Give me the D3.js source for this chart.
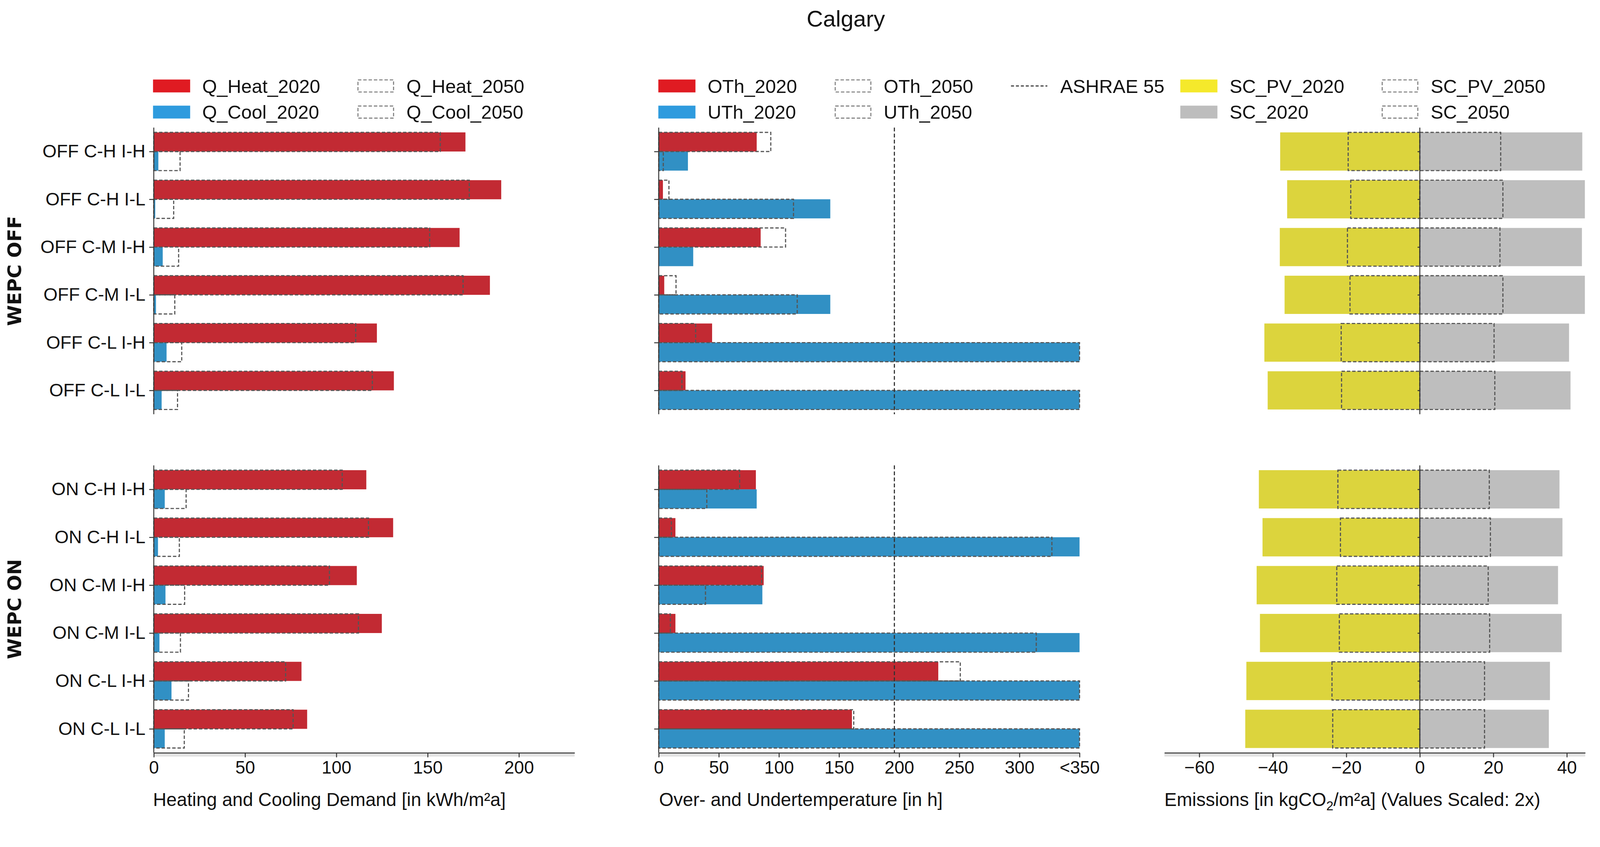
<!DOCTYPE html>
<html>
<head>
<meta charset="utf-8">
<script src="https://d3js.org/d3.v7.min.js"></script>
<style>
    html, body { margin: 0; padding: 0; background: #fff; overflow: hidden; }
    svg { display: block; }
    svg text { font-family: "Liberation Sans", Arial, sans-serif; fill: #111; }
    .axis path, .axis line { stroke: #333; stroke-width: 2.5; }
    .axis text { font-size: 46px; font-family: "Liberation Sans", Arial, sans-serif; fill: #111; }
</style>
</head>
<body>
<div id="chart"></div>
<script>
// categories (first 6 = WEPC OFF, last 6 = WEPC ON)
var rowLabels = ["OFF C-H I-H", "OFF C-H I-L", "OFF C-M I-H", "OFF C-M I-L", "OFF C-L I-H", "OFF C-L I-L",
                 "ON C-H I-H", "ON C-H I-L", "ON C-M I-H", "ON C-M I-L", "ON C-L I-H", "ON C-L I-L"];
var groupLabels = ["WEPC OFF", "WEPC ON"];

// heating / cooling demand [kWh/m²a]
var qHeat2020 = [170.7, 190.3, 167.5, 184.1, 122.2, 131.5, 116.4, 131.1, 111.2, 124.9, 80.9, 84.0];
var qHeat2050 = [156.9, 172.8, 151.1, 169.4, 110.6, 119.7, 103.2, 117.6, 96.2, 112.1, 72.2, 76.3];
var qCool2020 = [2.5, 0.8, 4.9, 1.2, 7.0, 4.3, 6.0, 2.3, 6.4, 3.1, 9.7, 6.0];
var qCool2050 = [14.4, 10.9, 13.6, 11.5, 15.3, 13.0, 17.7, 14.0, 16.9, 14.6, 19.0, 16.7];

// over- / undertemperature [h], capped at 350
var oTh2020 = [81.5, 3.5, 84.8, 4.6, 44.4, 22.3, 80.8, 13.9, 87.3, 13.9, 232.5, 160.7];
var oTh2050 = [93.2, 8.5, 105.5, 14.4, 30.7, 19.3, 67.3, 10.5, 85.6, 9.7, 250.8, 162.2];
var uTh2020 = [24.3, 142.7, 28.7, 142.7, 350, 350, 81.5, 350, 86.2, 350, 350, 350];
var uTh2050 = [3.8, 112.1, 0, 115.2, 350, 350, 40.0, 327, 38.9, 314, 350, 350];
var ashrae = 196;

// emissions [kgCO2/m²a] scaled 2x
var scPv2020 = [-38.0, -36.1, -38.1, -36.8, -42.3, -41.4, -43.8, -42.8, -44.4, -43.5, -47.2, -47.5];
var scPv2050 = [-19.5, -18.8, -19.7, -19.0, -21.4, -21.3, -22.3, -21.6, -22.6, -21.9, -23.9, -23.7];
var sc2020 = [44.2, 44.9, 44.1, 44.9, 40.6, 41.0, 38.0, 38.8, 37.6, 38.6, 35.4, 35.1];
var sc2050 = [22.0, 22.6, 21.8, 22.6, 20.2, 20.4, 18.9, 19.2, 18.6, 19.0, 17.6, 17.6];

var xTicks1 = [0, 50, 100, 150, 200];
var xTicks2 = [0, 50, 100, 150, 200, 250, 300, 350];
var xTicks3 = [-60, -40, -20, 0, 20, 40];

var W = 4224, H = 2169;
var svg = d3.select("#chart").append("svg")
    .attr("viewBox", "0 0 " + W + " " + H)
    .attr("preserveAspectRatio", "xMinYMin meet")
    .style("width", "100vw").style("height", "100vh");

var groups = [{ top: 337, bottom: 1094 }, { top: 1229, bottom: 1988 }];
var dashStyle = function (sel) {
    sel.attr("fill", "none").attr("stroke", "#555").attr("stroke-width", 3)
       .attr("stroke-dasharray", "9,5");
};

svg.append("text").attr("x", 2233).attr("y", 70).attr("text-anchor", "middle")
    .style("font-size", "60px").text("Calgary");

var panels = [
    { x0: 406, x1: 1517, domain: [0, 230.5], ticks: xTicks1,
      upper: [qHeat2020, qHeat2050], lower: [qCool2020, qCool2050],
      colors: ["#c22a33", "#3190c4"], labels: true,
      xlabel: "Heating and Cooling Demand [in kWh/m²a]" },
    { x0: 1739, x1: 2850, domain: [0, 350], ticks: xTicks2,
      upper: [oTh2020, oTh2050], lower: [uTh2020, uTh2050],
      colors: ["#c22a33", "#3190c4"], labels: false, ashrae: true,
      xlabel: "Over- and Undertemperature [in h]" },
    { x0: 3074, x1: 4185, domain: [-69.5, 45], ticks: xTicks3,
      left: [scPv2020, scPv2050], right: [sc2020, sc2050],
      colors: ["#dcd43d", "#bebebe"], labels: false, zeroLine: true }
];

panels.forEach(function (p, pi) {
    var x = d3.scaleLinear().domain(p.domain).range([p.x0, p.x1]);
    groups.forEach(function (g, gi) {
        var y = d3.scaleLinear().domain([-0.5, 5.5]).range([g.top, g.bottom]);
        var idx = d3.range(6).map(function (i) { return i + gi * 6; });
        var layer = svg.append("g");
        if (p.upper) {
            // 2020 filled bars
            layer.selectAll(".up").data(idx).enter().append("rect")
                .attr("x", x(0)).attr("y", function (d, i) { return y(i - 0.4); })
                .attr("width", function (d) { return x(p.upper[0][d]) - x(0); })
                .attr("height", y(0.4) - y(0)).attr("fill", p.colors[0]);
            layer.selectAll(".lo").data(idx).enter().append("rect")
                .attr("x", x(0)).attr("y", function (d, i) { return y(i); })
                .attr("width", function (d) { return x(p.lower[0][d]) - x(0); })
                .attr("height", y(0.4) - y(0)).attr("fill", p.colors[1]);
            // 2050 dashed outlines
            layer.selectAll(".up50").data(idx).enter().append("rect")
                .attr("x", x(0)).attr("y", function (d, i) { return y(i - 0.4); })
                .attr("width", function (d) { return x(p.upper[1][d]) - x(0); })
                .attr("height", y(0.4) - y(0)).call(dashStyle);
            layer.selectAll(".lo50").data(idx).enter().append("rect")
                .attr("x", x(0)).attr("y", function (d, i) { return y(i); })
                .attr("width", function (d) { return x(p.lower[1][d]) - x(0); })
                .attr("height", y(0.4) - y(0)).call(dashStyle);
        } else {
            [0, 1].forEach(function (k) {
                var ser = k === 0 ? p.left : p.right;
                layer.selectAll(".f" + k).data(idx).enter().append("rect")
                    .attr("x", function (d) { return x(Math.min(0, ser[0][d])); })
                    .attr("y", function (d, i) { return y(i - 0.4); })
                    .attr("width", function (d) { return Math.abs(x(ser[0][d]) - x(0)); })
                    .attr("height", y(0.4) - y(-0.4)).attr("fill", p.colors[k]);
            });
            [0, 1].forEach(function (k) {
                var ser = k === 0 ? p.left : p.right;
                layer.selectAll(".d" + k).data(idx).enter().append("rect")
                    .attr("x", function (d) { return x(Math.min(0, ser[1][d])); })
                    .attr("y", function (d, i) { return y(i - 0.4); })
                    .attr("width", function (d) { return Math.abs(x(ser[1][d]) - x(0)); })
                    .attr("height", y(0.4) - y(-0.4)).call(dashStyle);
            });
        }
        if (p.ashrae) {
            svg.append("line").attr("x1", x(ashrae)).attr("x2", x(ashrae))
                .attr("y1", g.top).attr("y2", g.bottom)
                .attr("stroke", "#333").attr("stroke-width", 3).attr("stroke-dasharray", "10,6");
        }
        // y axis
        var yAxis = d3.axisLeft(d3.scaleLinear().domain([-0.5, 5.5]).range([g.top, g.bottom]))
            .tickValues(d3.range(6)).tickSize(p.zeroLine ? 6 : 12).tickPadding(10)
            .tickFormat(function (d) { return p.labels ? rowLabels[d + gi * 6] : ""; });
        var ya = svg.append("g").attr("class", "axis")
            .attr("transform", "translate(" + (p.zeroLine ? x(0) : p.x0) + ",0)").call(yAxis);
        ya.select(".domain").attr("d", "M0," + g.top + "V" + g.bottom);
        ya.selectAll("text").style("font-size", "48px");
        if (gi === 1) {
            svg.append("rect").attr("x", p.x0).attr("y", g.bottom).attr("width", p.x1 - p.x0)
                .attr("height", 10).attr("fill", "#e2e2e2");
            var xAxis = d3.axisBottom(x).tickValues(p.ticks).tickSize(12).tickPadding(10)
                .tickSizeOuter(0)
                .tickFormat(function (d) {
                    if (pi === 1 && d === 350) return "<350";
                    return d < 0 ? "\u2212" + Math.abs(d) : d;
                });
            var xa = svg.append("g").attr("class", "axis")
                .attr("transform", "translate(0," + g.bottom + ")").call(xAxis);
            xa.selectAll("text").style("font-size", "47px");
        }
    });
});

// x labels
svg.append("text").attr("x", 404).attr("y", 2128).style("font-size", "49px")
    .text(panels[0].xlabel);
svg.append("text").attr("x", 1740).attr("y", 2128).style("font-size", "49px")
    .text(panels[1].xlabel);
var el = svg.append("text").attr("x", 3074).attr("y", 2128).style("font-size", "49px");
el.append("tspan").text("Emissions [in kgCO");
el.append("tspan").attr("dy", 12).style("font-size", "34px").text("2");
el.append("tspan").attr("dy", -12).text("/m²a] (Values Scaled: 2x)");

// group labels
groups.forEach(function (g, gi) {
    svg.append("text")
        .attr("transform", "translate(56," + ((g.top + g.bottom) / 2) + ") rotate(-90)")
        .attr("text-anchor", "middle")
        .style("font-family", "'DejaVu Sans', sans-serif").style("font-weight", "bold")
        .style("font-size", "50px").text(groupLabels[gi]);
});

// legends
var legends = [
    { items: [
        [{ fill: "#e01b22", text: "Q_Heat_2020" }, { fill: "#2e9bde", text: "Q_Cool_2020" }],
        [{ dash: true, text: "Q_Heat_2050" }, { dash: true, text: "Q_Cool_2050" }]],
      colX: [404, 943] },
    { items: [
        [{ fill: "#e01b22", text: "OTh_2020" }, { fill: "#2e9bde", text: "UTh_2020" }],
        [{ dash: true, text: "OTh_2050" }, { dash: true, text: "UTh_2050" }],
        [{ line: true, text: "ASHRAE 55" }]],
      colX: [1738, 2203, 2669] },
    { items: [
        [{ fill: "#f5e92b", text: "SC_PV_2020" }, { fill: "#bdbdbd", text: "SC_2020" }],
        [{ dash: true, text: "SC_PV_2050" }, { dash: true, text: "SC_2050" }]],
      colX: [3116, 3647] }
];
var rowY = [227, 296];
legends.forEach(function (lg) {
    lg.items.forEach(function (col, ci) {
        col.forEach(function (it, ri) {
            var lx = lg.colX[ci], cy = rowY[ri];
            if (it.fill) {
                svg.append("rect").attr("x", lx).attr("y", cy - 17).attr("width", 98)
                    .attr("height", 34).attr("fill", it.fill);
            } else if (it.dash) {
                svg.append("rect").attr("x", lx + 2).attr("y", cy - 16).attr("width", 94)
                    .attr("height", 32).attr("fill", "#fff").attr("stroke", "#888")
                    .attr("stroke-width", 3).attr("stroke-dasharray", "9,5");
            } else if (it.line) {
                svg.append("line").attr("x1", lx).attr("x2", lx + 96).attr("y1", cy).attr("y2", cy)
                    .attr("stroke", "#333").attr("stroke-width", 3).attr("stroke-dasharray", "8,5");
            }
            svg.append("text").attr("x", lx + 130).attr("y", cy + 18)
                .style("font-size", "50px").text(it.text);
        });
    });
});
</script>
</body>
</html>
